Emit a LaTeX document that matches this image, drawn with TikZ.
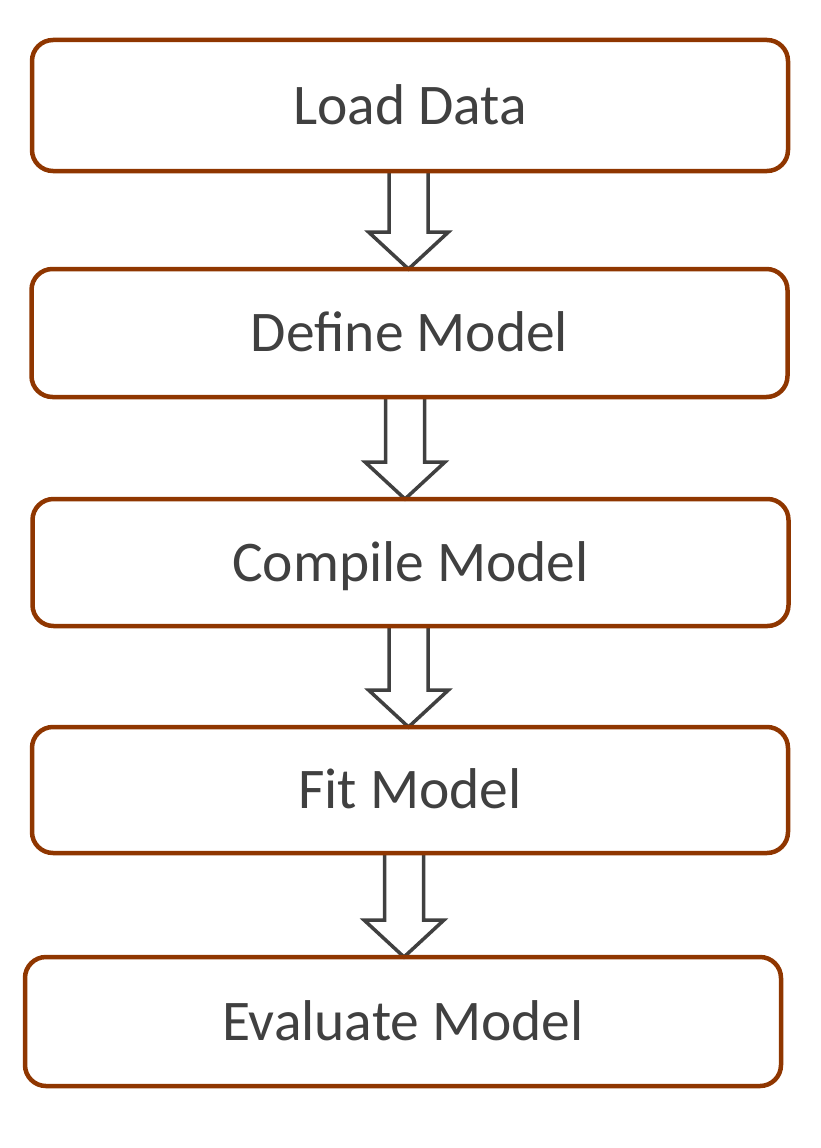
\documentclass[tikz,border=0pt]{standalone}
\usepackage{fontspec}
\setmainfont{Carlito}
\usetikzlibrary{backgrounds,calc}
\definecolor{boxbrown}{RGB}{143,54,0}
\definecolor{txtgray}{RGB}{64,64,64}
\begin{document}
\begin{tikzpicture}[x=1pt,y=-1pt,
  stepbox/.style={draw=boxbrown, line width=4.5pt, rounded corners=21pt,
    minimum width=756pt, minimum height=#1, outer sep=0pt, inner sep=0pt,
    text=txtgray, font=\fontsize{57.5}{70}\selectfont, text height=37pt, text depth=0pt},
  blockarr/.style={draw=txtgray, line width=3.5pt, fill=white, line join=miter}]
\useasboundingbox (0,0) rectangle (820,1148);
\node[stepbox=131pt] (n1) at (410,105.5) {Load Data};
\node[stepbox=128pt] (n2) at (409.5,333) {Define Model};
\node[stepbox=127pt] (n3) at (410.5,562.5) {Compile Model};
\node[stepbox=126pt] (n4) at (410,790) {Fit Model};
\node[stepbox=129pt] (n5) at (403,1021.5) {Evaluate Model};
\newcommand{\blockarrow}[3]{%
  \coordinate (ax) at (#3,0);
  \draw[blockarr]
    ($(#1.south -| ax)+(-19.5,0)$) --
    ($(#2.north -| ax)+(-19.5,-37)$) --
    ($(#2.north -| ax)+(-40,-37)$) --
    (#2.north -| ax) --
    ($(#2.north -| ax)+(40,-37)$) --
    ($(#2.north -| ax)+(19.5,-37)$) --
    ($(#1.south -| ax)+(19.5,0)$);}
\begin{scope}[on background layer]
\blockarrow{n1}{n2}{408.5}
\blockarrow{n2}{n3}{405}
\blockarrow{n3}{n4}{408.5}
\blockarrow{n4}{n5}{404}
\end{scope}
\end{tikzpicture}
\end{document}
